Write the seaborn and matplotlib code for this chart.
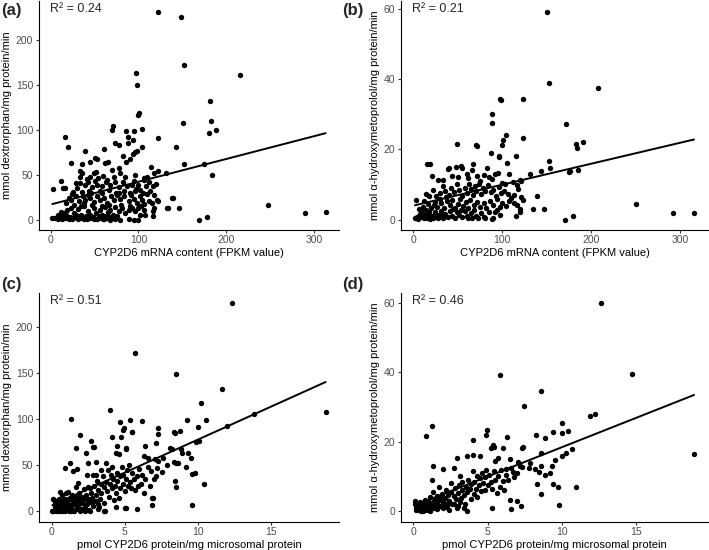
import matplotlib
matplotlib.use("Agg")
import matplotlib.pyplot as plt
import seaborn as sns
import numpy as np

# (a) mRNA (FPKM) vs dextrorphan formation
a_mrna = [122.6, 149.1, 151.7, 96.9, 98.4, 215.7, 181.2, 100.3, 99.5, 150.6, 183.1, 188.8, 180.9, 122.2,
          142.6, 152.5, 174.8, 183.5, 131.3, 138.5, 133.9, 146.0, 169.5, 178.6, 248.2, 289.4, 313.3,
          70.8, 70.4, 86.3, 94.6, 104.0, 15.9, 87.8, 19.7, 39.7, 73.8, 78.3, 88.2, 93.8, 96.5, 98.4, 104.4,
          61.3, 22.7, 35.6, 44.6, 50.0, 53.0, 62.4, 65.0, 82.5, 86.3, 90.4, 93.5, 35.2, 33.5, 49.2, 51.8,
          70.4, 77.6, 78.7, 96.5, 114.6, 117.3, 122.2, 40.9, 44.6, 64.3, 106.0, 110.0, 11.4,
          14.4, 3.0, 16.0, 29.1, 33.5, 39.7, 42.4, 47.3, 53.0, 59.0, 63.6, 68.1, 73.8, 77.6, 82.5, 87.0,
          92.7, 97.6, 102.2, 106.7, 108.9, 111.6, 116.2, 25.0, 36.0, 44.0, 56.0, 66.0, 75.0, 84.0, 96.5,
          20.8, 23.5, 28.4, 32.2, 37.1, 39.7, 42.4, 45.4, 49.9, 53.0, 56.8, 58.6, 61.3, 64.3, 68.9, 71.9,
          75.7, 79.5, 84.0, 88.9, 91.6, 94.6, 98.4, 101.4, 104.0, 106.7, 111.6, 115.4, 121.0, 122.6, 139.9,
          27.0, 35.0, 47.0, 58.0, 80.0, 91.0,
          10.6, 15.1, 18.9, 22.7, 26.5, 31.0, 34.8, 37.8, 42.4, 45.4, 49.2, 52.2, 56.0, 58.6, 62.4, 65.0,
          68.1, 71.1, 73.8, 77.6, 81.3, 84.4, 88.9, 92.7, 96.5, 99.1, 106.7, 116.2, 118.1, 132.4, 116.5,
          29.0, 40.0, 55.0, 63.0, 76.0, 102.0,
          1.9, 4.5, 11.4, 15.9, 20.8, 25.7, 31.0, 35.9, 40.9, 45.4, 49.9, 55.2, 59.8, 63.6, 68.1, 78.7,
          88.9, 94.6, 99.1,
          8.0, 13.0, 17.0, 22.0, 24.0, 28.0, 33.0, 38.0, 43.0, 48.0, 53.0, 8.0, 12.0, 57.0, 61.0, 66.0,
          70.0, 73.0, 18.0, 24.0, 30.0, 34.0, 38.0, 46.0, 50.0, 54.0, 60.0, 67.0, 72.0, 78.0, 85.0, 90.0,
          95.0, 100.0, 105.0, 110.0, 113.0, 118.0, 120.0, 103.0, 108.0]
a_dex = [231.6, 225.7, 172.1, 163.2, 149.3, 160.7, 132.4, 118.4, 116.5, 107.4, 110.0, 99.3, 96.3, 90.8,
         80.9, 61.8, 61.8, 49.6, 51.5, 23.9, 13.2, 12.9, 0.0, 2.9, 15.8, 7.4, 8.5,
         103.7, 99.3, 98.9, 98.5, 100.4, 91.9, 91.9, 80.5, 76.1, 85.7, 82.7, 85.3, 88.2, 75.0, 76.1, 80.9,
         78.3, 62.5, 61.4, 64.0, 69.0, 67.6, 63.2, 63.6, 71.0, 63.6, 66.9, 72.8, 51.5, 53.5, 51.5, 53.3,
         55.1, 57.0, 51.5, 49.6, 58.1, 51.5, 54.4, 44.9, 47.8, 44.1, 46.0, 47.0, 43.0,
         34.6, 33.8, 35.5, 40.4, 41.0, 38.2, 42.3, 36.0, 38.6, 36.8, 41.2, 38.6, 42.3, 36.0, 41.2, 36.8,
         38.6, 33.8, 33.1, 44.1, 37.5, 41.2, 36.8, 31.0, 30.5, 32.0, 31.5, 32.5, 30.0, 31.5, 31.2,
         23.9, 22.0, 25.7, 20.2, 26.5, 22.0, 27.6, 23.9, 19.1, 25.7, 21.3, 29.4, 23.9, 18.4, 25.7, 21.3,
         27.6, 22.8, 25.7, 20.2, 27.6, 22.8, 18.4, 25.7, 22.0, 17.6, 21.0, 18.4, 22.0, 21.0, 23.9,
         16.5, 15.5, 16.0, 15.5, 16.5, 15.5,
         5.5, 7.4, 10.3, 12.9, 7.4, 11.8, 5.5, 14.7, 9.2, 5.5, 12.9, 7.4, 11.0, 5.5, 14.0, 8.1,
         11.0, 5.5, 14.0, 9.2, 12.9, 7.4, 11.0, 12.9, 9.2, 12.9, 10.3, 9.2, 12.9, 13.2, 3.7,
         4.5, 3.8, 4.0, 3.5, 4.2, 5.5,
         1.5, 1.5, 3.7, 1.8, 0.7, 1.5, 0.7, 1.8, 0.7, 1.8, 0.7, 1.5, 0.7, 1.8, 0.0, 0.0,
         0.7, 0.0, 0.0,
         0.5, 0.3, 4.5, 2.5, 0.2, 2.8, 3.0, 0.3, 3.2, 2.5, 0.3, 5.5, 8.0, 2.8, 0.3, 2.5,
         1.2, 0.5, 18.0, 28.0, 35.0, 47.0, 18.0, 29.0, 43.0, 46.0, 48.0, 16.0, 47.0, 30.0, 47.0, 30.0,
         43.0, 38.0, 30.0, 28.0, 32.0, 27.0, 40.0, 15.0, 5.0]

# (b) mRNA (FPKM) vs alpha-hydroxymetoprolol formation
b_mrna = [149.8, 152.4, 208.0, 97.8, 99.0, 123.6, 88.0, 88.0, 171.5, 104.0, 100.4, 123.2, 99.5, 182.4,
          190.3, 184.3, 48.7, 70.4, 71.2, 86.9, 95.9, 96.5, 115.0, 152.4, 153.6, 176.4, 175.0, 185.0,
          143.4, 131.5, 15.4, 19.1, 21.3, 40.0, 53.2, 48.0, 67.4, 84.6, 104.9, 139.3, 134.8, 146.8,
          170.0, 179.8, 249.8, 292.0, 315.4, 119.9,
          28, 34, 39, 44, 50, 55, 60, 62, 66, 72, 75, 80, 83, 88, 92, 95, 100, 103, 108, 112, 117, 121,
          14, 18, 22, 26, 30, 33, 36, 40, 43, 46, 49, 52, 55, 58, 60, 63, 65, 67, 69, 71, 74, 76, 78,
          81, 84, 87, 90, 93, 96, 99, 102, 106, 110, 113, 118, 121,
          3, 12, 17, 20, 24, 27, 31, 35, 38, 41, 44, 47, 50, 53, 56, 59, 62, 64, 68, 72, 75, 79, 82,
          86, 90, 94, 97, 100, 104, 108, 113, 117, 120, 123,
          2, 4, 8, 10, 13, 15, 17, 19, 21, 24, 26, 29, 31, 33, 36, 39, 41, 44, 47, 49, 52, 55, 58, 60,
          62, 65, 68, 70, 73, 76, 79, 85, 88, 90, 94, 98, 116, 120,
          5, 7, 9, 12, 14, 16, 18, 22, 25, 28, 32, 35, 11, 23, 30, 37, 45, 54, 66, 81, 92, 6]
b_meto = [59.3, 38.9, 37.6, 34.3, 34.1, 34.3, 30.2, 27.6, 27.2, 24.2, 22.8, 23.1, 21.2, 21.5,
          22.2, 20.3, 21.5, 21.2, 20.9, 19.0, 18.0, 17.7, 18.0, 16.6, 14.6, 13.9, 13.6, 14.0,
          13.9, 13.0, 15.7, 15.9, 12.4, 14.6, 15.2, 15.0, 15.9, 12.1, 16.1, 6.6, 2.9, 3.1,
          0.0, 1.1, 4.5, 1.9, 1.9, 11.2,
          11.2, 11.3, 14.4, 12.5, 12.2, 14.7, 13.0, 11.8, 14.1, 12.5, 11.1, 12.7, 14.8, 11.5, 12.9, 13.2,
          10.5, 10.1, 13.0, 10.7, 9.8, 11.1,
          7.4, 6.6, 8.5, 6.8, 7.5, 9.6, 8.2, 7.0, 9.0, 7.8, 10.0, 8.3, 6.6, 9.1, 7.5, 10.2, 8.6, 7.0, 9.6,
          8.1, 10.0, 7.3, 9.0, 8.2, 9.7, 7.8, 8.4, 6.6, 9.3, 7.5, 8.1, 7.3, 6.2, 7.1, 8.6, 6.3,
          5.6, 5.2, 4.4, 3.2, 5.0, 3.6, 4.8, 3.3, 5.3, 4.0, 5.6, 3.4, 4.5, 5.8, 3.8, 4.9, 3.3, 5.5, 4.2,
          5.1, 3.6, 4.6, 3.2, 5.4, 4.1, 5.8, 3.7, 4.8, 3.9, 5.2, 4.6, 4.0, 3.0, 5.6,
          0.3, 0.8, 1.5, 0.8, 1.6, 0.4, 1.2, 0.2, 0.9, 2.2, 0.6, 1.3, 2.5, 0.3, 1.6, 0.7, 2.4, 1.1, 0.5,
          2.0, 1.4, 0.6, 2.3, 1.1, 0.4, 1.8, 2.6, 1.0, 0.3, 1.9, 0.8, 2.2, 0.2, 0.5, 2.6, 1.3, 1.0, 2.0,
          0.2, 1.0, 2.3, 0.5, 2.8, 0.9, 2.0, 0.4, 1.5, 0.3, 1.7, 0.6, 3.5, 4.0, 5.8, 6.5, 2.9, 2.6,
          0.4, 0.4, 2.2, 3.0]

# (c) CYP2D6 protein vs dextrorphan formation
c_prot = [12.35, 5.72, 8.48, 11.67, 10.18, 18.71, 13.85, 4.0, 1.31, 9.25, 10.52, 12.01, 10.0, 8.78,
          8.37, 8.45, 7.26, 7.29, 6.18, 5.34, 5.5, 4.66, 4.95, 4.89, 4.75, 4.12, 1.92, 2.71, 2.9, 1.65,
          6.4, 5.09, 4.5, 4.41, 4.6, 2.38, 9.34, 8.82, 9.86, 10.09, 6.29, 9.57, 9.16, 8.35, 8.5, 10.38,
          9.57, 8.51, 7.56, 7.19, 7.04, 6.61, 6.88, 6.88, 5.84, 5.11, 3.57, 0.9, 1.29, 1.49, 1.72, 2.49,
          7.15, 8.12, 5.07, 2.85, 5.48,
          0.1, 0.15, 0.1, 0.2, 0.3, 0.4, 0.45, 0.5, 0.6, 0.7, 0.75, 0.8, 0.9, 1.0, 1.05, 1.1, 1.2, 1.25,
          1.3, 1.4, 1.5, 1.55, 1.6, 1.7, 1.8, 1.85, 1.9, 2.0, 2.05, 2.1, 2.15, 2.2, 2.3, 2.35, 2.4, 2.5,
          2.55, 2.6, 2.7, 2.75, 2.8, 2.9, 3.0, 3.05, 3.1, 3.15, 3.2, 3.3, 3.35, 3.4, 3.5, 3.55, 3.6, 3.65,
          3.7, 3.8, 3.85, 3.9, 4.0, 4.05, 4.1, 4.2, 4.25, 4.3, 4.4, 4.45, 4.5, 4.6, 4.65, 4.7, 4.8, 4.85,
          4.9, 5.0, 5.1, 5.15, 5.2, 5.3, 5.35, 5.4, 5.5, 5.6, 5.7, 5.8, 5.9, 6.0, 6.1, 6.2, 6.3, 6.4,
          6.6, 6.7, 6.8, 6.9, 7.0, 7.1, 7.3, 7.6, 7.9, 8.2, 8.4, 8.6, 8.9, 9.5, 9.8,
          0.3, 0.5, 0.7, 0.9, 1.1, 1.4, 1.7, 2.0, 2.3, 2.6, 3.0, 3.2, 3.4, 3.7, 4.1, 4.4, 5.0, 2.8, 3.0,
          1.8, 1.0, 0.6, 2.4,
          0.05, 0.2, 0.35, 0.55, 0.65, 0.85, 0.95, 1.15, 1.35, 1.45, 1.65, 1.75, 1.95, 2.25, 2.45, 2.65,
          2.85, 3.25, 0.25, 0.55, 1.2, 1.9, 2.1, 2.5]
c_dex = [225.4, 172.0, 149.3, 132.7, 117.3, 107.4, 105.1, 110.0, 100.0, 99.3, 98.5, 92.3, 91.5, 87.5,
         85.7, 84.5, 90.0, 83.8, 97.4, 99.3, 85.7, 96.7, 90.0, 88.5, 80.9, 80.1, 82.4, 76.5, 70.2, 68.4,
         71.3, 68.0, 71.0, 62.9, 62.5, 63.6, 62.9, 67.6, 75.4, 76.5, 59.9, 40.8, 47.8, 53.3, 52.5, 29.4,
         7.4, 26.5, 42.3, 47.1, 57.0, 57.7, 14.7, 7.4, 2.2, 4.0, 0.4, 47.0, 52.6, 44.1, 45.6, 52.6,
         74.3, 69.0, 69.0, 69.9, 85.7,
         1.0, 12.0, 14.0, 2.0, 0.5, 3.0, 0.2, 6.0, 1.0, 0.3, 9.0, 3.5, 0.5, 5.0, 10.0, 2.0, 7.0, 15.0,
         4.0, 12.0, 0.8, 8.0, 17.0, 11.0, 5.0, 14.0, 20.0, 9.0, 16.0, 3.0, 12.0, 24.0, 7.0, 18.0, 13.0, 26.0,
         2.0, 10.0, 20.0, 15.0, 6.0, 28.0, 18.0, 11.0, 33.0, 23.0, 2.5, 14.0, 30.0, 20.0, 38.0, 26.0, 9.0, 0.5,
         32.0, 22.0, 45.0, 16.0, 30.0, 40.0, 25.0, 35.0, 12.0, 28.0, 20.0, 42.0, 33.0, 15.0, 38.0, 25.0, 48.0, 30.0,
         40.0, 22.0, 35.0, 45.0, 28.0, 50.0, 32.0, 25.0, 42.0, 35.0, 23.0, 38.0, 28.0, 46.0, 30.0, 40.0, 20.0, 35.0,
         48.0, 28.0, 44.0, 15.0, 35.0, 38.0, 55.0, 58.0, 50.0, 68.0, 33.0, 52.0, 63.0, 58.0, 42.0,
         10.0, 14.0, 18.0, 8.0, 21.0, 18.0, 26.0, 2.0, 0.5, 25.0, 40.0, 8.0, 45.0, 52.0, 48.0, 5.0, 4.0, 40.0, 54.0,
         31.0, 20.0, 21.0, 40.0,
         0.3, 5.0, 8.0, 3.0, 12.0, 1.5, 13.0, 5.5, 1.0, 9.0, 3.0, 7.0, 1.0, 4.0, 8.0, 1.0,
         11.0, 5.0, 8.0, 10.0, 0.5, 14.5, 10.5, 14.0]

# (d) CYP2D6 protein vs alpha-hydroxymetoprolol formation
d_prot = [12.62, 14.7, 5.8, 8.6, 7.46, 11.87, 12.24, 10.02, 18.9, 0.86, 1.25, 4.03, 4.87, 4.92, 5.35,
          5.45, 6.03, 5.21, 6.32, 7.3, 7.4, 8.27, 8.88, 9.4, 10.38, 10.02, 10.7, 10.02, 10.29, 9.56, 9.34,
          8.88, 9.2, 8.57, 8.59, 8.47, 8.59, 8.32, 9.38, 9.74, 10.97, 9.79, 6.59, 6.98, 7.23, 6.5, 5.26,
          3.6, 7.75, 8.2, 7.86, 7.3, 7.07, 6.73, 2.9, 2.74, 1.31, 1.97, 1.22, 3.6, 4.0, 4.5, 5.5, 5.7,
          6.5, 6.2,
          0.1, 0.1, 0.15, 0.2, 0.3, 0.35, 0.4, 0.5, 0.55, 0.6, 0.7, 0.75, 0.8, 0.9, 1.0, 1.05, 1.1, 1.2,
          1.3, 1.35, 1.4, 1.5, 1.6, 1.7, 1.75, 1.8, 1.9, 2.0, 2.1, 2.2, 2.25, 2.3, 2.4, 2.5, 2.55, 2.6,
          2.7, 2.8, 2.85, 2.9, 3.0, 3.05, 3.1, 3.2, 3.25, 3.3, 3.4, 3.5, 3.55, 3.6, 3.7, 3.8, 3.85, 3.9,
          4.0, 4.05, 4.1, 4.2, 4.25, 4.3, 4.4, 4.5, 4.55, 4.6, 4.7, 4.8, 4.85, 4.9, 5.0, 5.1, 5.2, 5.3,
          5.4, 5.5, 5.6, 5.7, 5.8, 5.9, 6.0, 6.1, 6.2, 6.4, 6.6, 6.8, 7.0, 7.2,
          1.1, 1.6, 2.0, 2.4, 3.0, 3.4,
          0.25, 0.45, 0.65, 0.85, 1.15, 1.45, 1.65, 1.85, 2.05, 2.35, 2.75, 3.15]
d_meto = [59.8, 39.6, 39.2, 34.6, 30.3, 27.4, 27.9, 25.5, 16.5, 21.7, 24.4, 20.5, 21.8, 23.3, 19.1,
          18.6, 18.1, 18.1, 21.4, 18.3, 18.4, 21.9, 21.0, 22.7, 23.0, 22.5, 17.9, 16.0, 16.8, 14.6, 13.0,
          10.3, 11.0, 16.7, 13.0, 11.2, 5.0, 7.8, 7.8, 7.0, 7.1, 1.7, 0.6, 3.0, 1.5, 3.1, 1.0,
          0.0, 12.4, 12.2, 13.8, 12.7, 14.1, 11.2, 15.2, 12.5, 12.9, 12.2, 9.0, 16.0, 16.1, 15.9, 14.5, 15.2,
          15.0, 12.2,
          3.0, 2.2, 1.0, 0.3, 2.0, 0.5, 1.5, 0.2, 2.5, 0.8, 1.8, 0.3, 3.2, 1.2, 0.5, 2.6, 4.0, 1.8,
          5.5, 3.0, 1.0, 2.2, 4.5, 3.3, 7.0, 1.5, 5.0, 2.8, 3.9, 6.2, 1.2, 4.8, 3.0, 5.6, 8.0, 2.2,
          4.5, 6.6, 3.5, 1.0, 5.2, 7.5, 10.0, 3.8, 6.0, 8.5, 4.6, 2.2, 7.0, 5.5, 9.0, 6.3, 3.5, 7.8,
          11.5, 5.0, 8.5, 6.5, 10.0, 4.0, 7.5, 9.5, 5.8, 11.0, 8.0, 6.0, 9.8, 12.0, 7.5, 10.5, 8.5, 6.3,
          11.5, 9.0, 5.3, 10.0, 7.0, 11.8, 8.8, 6.0, 10.3, 9.0, 12.5, 9.8, 11.0, 13.0,
          0.2, 0.6, 0.9, 0.4, 1.5, 0.8,
          1.2, 2.8, 0.1, 2.0, 1.4, 3.5, 1.8, 3.8, 1.6, 2.5, 2.0, 2.6]

panels = [
    ("(a)", a_mrna, a_dex, "CYP2D6 mRNA content (FPKM value)", "mmol dextrorphan/mg protein/min",
     "R² = 0.24", [0, 100, 200, 300], [0, 50, 100, 150, 200]),
    ("(b)", b_mrna, b_meto, "CYP2D6 mRNA content (FPKM value)", "mmol α-hydroxymetoprolol/mg protein/min",
     "R² = 0.21", [0, 100, 200, 300], [0, 20, 40, 60]),
    ("(c)", c_prot, c_dex, "pmol CYP2D6 protein/mg microsomal protein", "mmol dextrorphan/mg protein/min",
     "R² = 0.51", [0, 5, 10, 15], [0, 50, 100, 150, 200]),
    ("(d)", d_prot, d_meto, "pmol CYP2D6 protein/mg microsomal protein", "mmol α-hydroxymetoprolol/mg protein/min",
     "R² = 0.46", [0, 5, 10, 15], [0, 20, 40, 60]),
]

sns.set_theme(style="ticks")
plt.rcParams["font.family"] = ["Liberation Sans", "DejaVu Sans"]

fig = plt.figure(figsize=(7.09, 5.5), dpi=100)
boxes = [[0.0545, 0.582, 0.424, 0.416], [0.5656, 0.582, 0.433, 0.416],
         [0.0545, 0.0515, 0.424, 0.416], [0.5656, 0.0515, 0.433, 0.416]]
tag_pos = [(0.002, 0.995), (0.483, 0.995), (0.002, 0.496), (0.483, 0.496)]

for box, tpos, (tag, x, y, xlab, ylab, r2, xt, yt) in zip(boxes, tag_pos, panels):
    ax = fig.add_axes(box)
    sns.regplot(x=np.array(x), y=np.array(y), ax=ax, ci=None,
                scatter_kws=dict(s=15, color="black", linewidths=0, alpha=1),
                line_kws=dict(color="black", linewidth=1.4))
    ax.set_xticks(xt)
    ax.set_yticks(yt)
    ax.margins(0.05)
    ax.set_xlabel(xlab, fontsize=8, color="black", labelpad=2)
    ax.set_ylabel(ylab, fontsize=8, color="black", labelpad=3)
    ax.tick_params(labelsize=7.5, labelcolor="#4D4D4D", length=2.5, width=0.8, color="#333333", pad=1.5)
    for s in ["left", "bottom"]:
        ax.spines[s].set_linewidth(0.8)
        ax.spines[s].set_color("black")
    sns.despine(ax=ax)
    ax.text(0.037, 0.99, r2, transform=ax.transAxes, fontsize=9, va="top", ha="left")
    fig.text(tpos[0], tpos[1], tag, fontsize=12, fontweight="bold", va="top", ha="left")

fig.savefig("out.png", dpi=100)
